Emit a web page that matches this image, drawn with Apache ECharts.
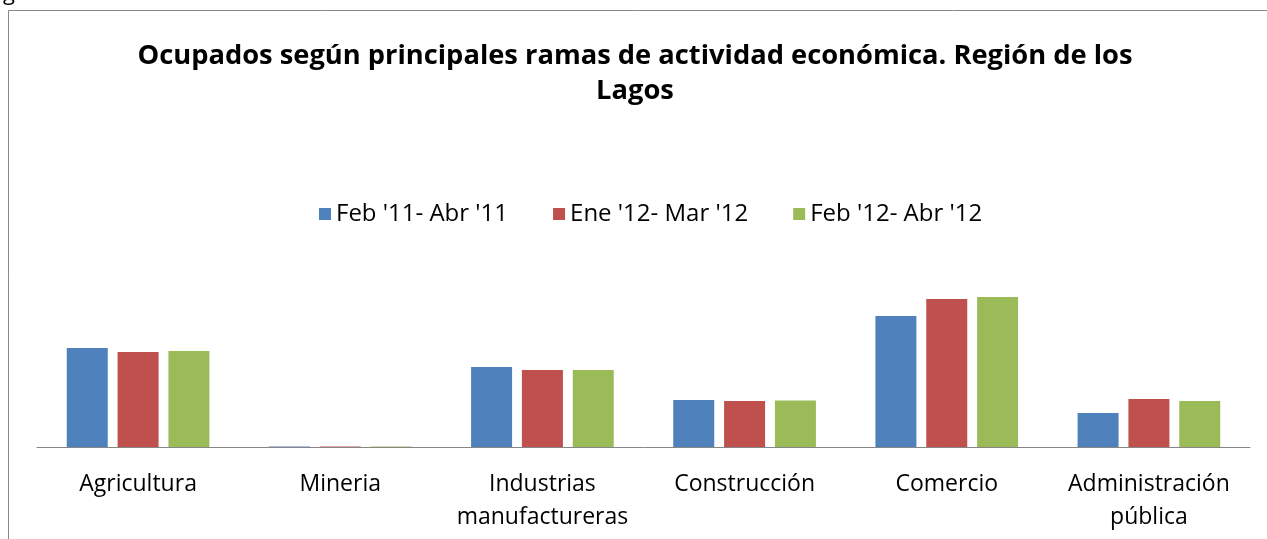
<!DOCTYPE html>
<html>
<head>
<meta charset="utf-8">
<script src="https://cdn.jsdelivr.net/npm/echarts@6/dist/echarts.min.js"></script>
<style>
  html, body { margin: 0; padding: 0; background: #fff; }
  #chart { width: 1267px; height: 539px; }
</style>
</head>
<body>
<div id="chart"></div>
<script>
// ramas de actividad
var categories = ['Agricultura', 'Mineria', 'Industrias\nmanufactureras', 'Construcción', 'Comercio', 'Administración\npública'];
var seriesNames = ["Feb '11- Abr '11", "Ene '12- Mar '12", "Feb '12- Abr '12"];
var feb11 = [99, 0.5, 80, 47, 131, 34];
var ene12 = [95, 0.5, 77, 46, 148, 48];
var feb12 = [96, 0.5, 77, 46.5, 150, 46];
var colors = ['#4f81bd', '#c0504d', '#9bbb59'];

var font = '"Open Sans", sans-serif';

function makeSeries(name, data) {
    return {
        name: name,
        type: 'bar',
        data: data,
        barWidth: 41,
        barGap: '24%',
        silent: true
    };
}

var options = {
    animation: false,
    color: colors,
    title: {
        text: 'Ocupados según principales ramas de actividad económica. Región de los\nLagos',
        left: 630,
        top: 34,
        textAlign: 'center',
        textStyle: {
            fontFamily: font,
            fontSize: 27.3,
            fontWeight: 'bold',
            color: '#000',
            lineHeight: 35
        }
    },
    legend: {
        data: seriesNames,
        left: 314,
        top: 197,
        icon: 'rect',
        itemWidth: 12,
        itemHeight: 12,
        itemGap: 45,
        textStyle: {
            fontFamily: font,
            fontSize: 24,
            color: '#000'
        }
    },
    grid: {
        left: 37,
        right: 17,
        top: 247,
        bottom: 92
    },
    xAxis: {
        type: 'category',
        data: categories,
        axisLine: { lineStyle: { color: '#868686', width: 1 } },
        axisTick: { show: false },
        axisLabel: {
            fontFamily: font,
            fontSize: 23,
            color: '#000',
            lineHeight: 33,
            margin: 21,
            interval: 0
        }
    },
    yAxis: {
        type: 'value',
        min: 0,
        max: 200,
        show: false,
        splitLine: { show: false }
    },
    graphic: [
        {
            type: 'polyline',
            shape: { points: [[8.5, 539], [8.5, 10.5], [1267, 10.5]] },
            style: { stroke: '#888', lineWidth: 1, fill: null }
        },
        {
            type: 'text',
            left: 3,
            top: -17,
            style: { text: 'g', font: '22px ' + font, fill: '#000' }
        }
    ],
    series: [
        makeSeries(seriesNames[0], feb11),
        makeSeries(seriesNames[1], ene12),
        makeSeries(seriesNames[2], feb12)
    ]
};

var chart = echarts.init(document.getElementById('chart'));
chart.setOption(options);
</script>
</body>
</html>
